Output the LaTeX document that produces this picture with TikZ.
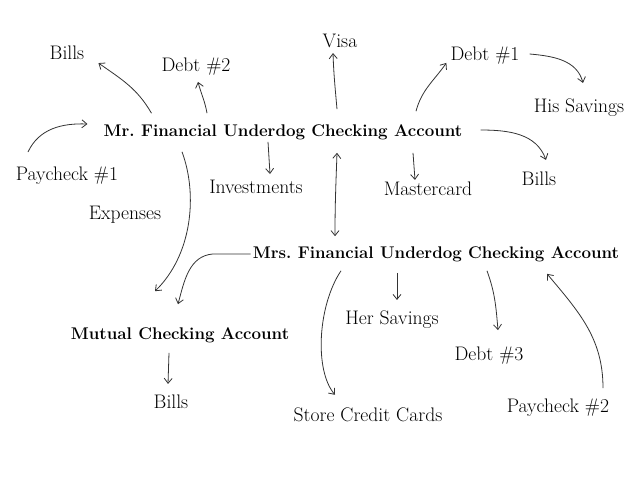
\documentclass[tikz,border=0pt]{standalone}
\usepackage{tikz}
\usetikzlibrary{arrows.meta}

\begin{document}
\begin{tikzpicture} %Cuentas
      [
      x=1pt, y=1pt,
      entry/.style={inner sep=2pt, font=\fontsize{19.6}{22}\selectfont},
      acct/.style={inner sep=2pt, font=\fontsize{16.9}{19}\selectfont\bfseries},
      flow/.style={draw=black!80, line width=0.8pt, -{Straight Barb[length=5pt,width=8pt]}}
      ]
      \useasboundingbox (0,0) rectangle (640,480);
      \node[acct] (mr) at (283,348) {Mr.\ Financial Underdog Checking Account};
      \node[acct] (mrs) at (436,226) {Mrs.\ Financial Underdog Checking Account};
      \node[acct] (mutual) at (180,145) {Mutual Checking Account};
      \node[entry] (bills1) at (67,427) {Bills};
      \node[entry] (debt2) at (196,413) {Debt \#2};
      \node[entry] (visa) at (340,439) {Visa};
      \node[entry] (debt1) at (485,424) {Debt \#1};
      \node[entry] (his) at (579,372) {His Savings};
      \node[entry] (paycheck1) at (67,304) {Paycheck \#1};
      \node[entry] (investments) at (256,293) {Investments};
      \node[entry] (mastercard) at (428,291) {Mastercard};
      \node[entry] (bills2) at (539,301) {Bills};
      \node[entry] (expenses) at (125,265) {Expenses};
      \node[entry] (hersav) at (392,160) {Her Savings};
      \node[entry] (debt3) at (489,124) {Debt \#3};
      \node[entry] (bills3) at (171,78) {Bills};
      \node[entry] (store) at (368,65) {Store Credit Cards};
      \node[entry] (paycheck2) at (558,72) {Paycheck \#2};
      \begin{scope}[every path/.style={flow}]
        \draw ([xshift=50pt,yshift=9pt]mr.north west) to[out=120,in=-35] ([xshift=12pt,yshift=-1pt]bills1.south east);
        \draw ([xshift=-76pt,yshift=9pt]mr.north) to[out=100,in=-75] ([xshift=2pt,yshift=-4pt]debt2.south);
        \draw ([xshift=-39pt,yshift=13pt]paycheck1.north) to[out=65,in=178] ([xshift=-14pt,yshift=8pt]mr.west);
        \draw ([xshift=-15pt]mr.south) -- ([xshift=14pt,yshift=4pt]investments.north);
        \draw ([xshift=54pt,yshift=13pt]mr.north) to[out=95,in=-88] ([xshift=-7pt,yshift=-3pt]visa.south);
        \draw ([xshift=133pt,yshift=11pt]mr.north) to[out=75,in=-125] ([xshift=-2pt,yshift=4pt]debt1.south west);
        \draw ([xshift=8pt,yshift=2pt]debt1.east) to[out=-5,in=105] ([xshift=4pt,yshift=14pt]his.north);
        \draw ([xshift=16pt,yshift=2pt]mr.east) to[out=0,in=110] ([xshift=7pt,yshift=10pt]bills2.north);
        \draw ([xshift=130pt,yshift=-11pt]mr.south) -- ([xshift=-13pt]mastercard.north);
        \draw[{Straight Barb[length=5pt,width=8pt]}-{Straight Barb[length=5pt,width=8pt]}] ([xshift=54pt,yshift=-11pt]mr.south) to[out=-92,in=90] ([xshift=-101pt,yshift=8pt]mrs.north);
        \draw ([xshift=-101pt,yshift=-10pt]mr.south) .. controls (198,285) and (192,225) .. ([xshift=-25pt,yshift=34pt]mutual.north);
        \draw (mrs.west) -- ++(-38pt,0) to[out=185,in=75] ([xshift=-2pt,yshift=21pt]mutual.north);
        \draw ([xshift=-11pt,yshift=-8pt]mutual.south) -- ([xshift=-3pt,yshift=9pt]bills3.north);
        \draw ([xshift=-95pt,yshift=-7pt]mrs.south) .. controls (318,175) and (314,110) .. ([xshift=-33pt,yshift=11pt]store.north);
        \draw ([xshift=-39pt,yshift=-9pt]mrs.south) -- ([xshift=5pt,yshift=9pt]hersav.north);
        \draw ([xshift=51pt,yshift=-7pt]mrs.south) to[out=-70,in=95] ([xshift=9pt,yshift=15pt]debt3.north);
        \draw ([xshift=45pt,yshift=9pt]paycheck2.north) to[out=90,in=-50] ([xshift=111pt,yshift=-10pt]mrs.south);
      \end{scope}
\end{tikzpicture}
\end{document}
